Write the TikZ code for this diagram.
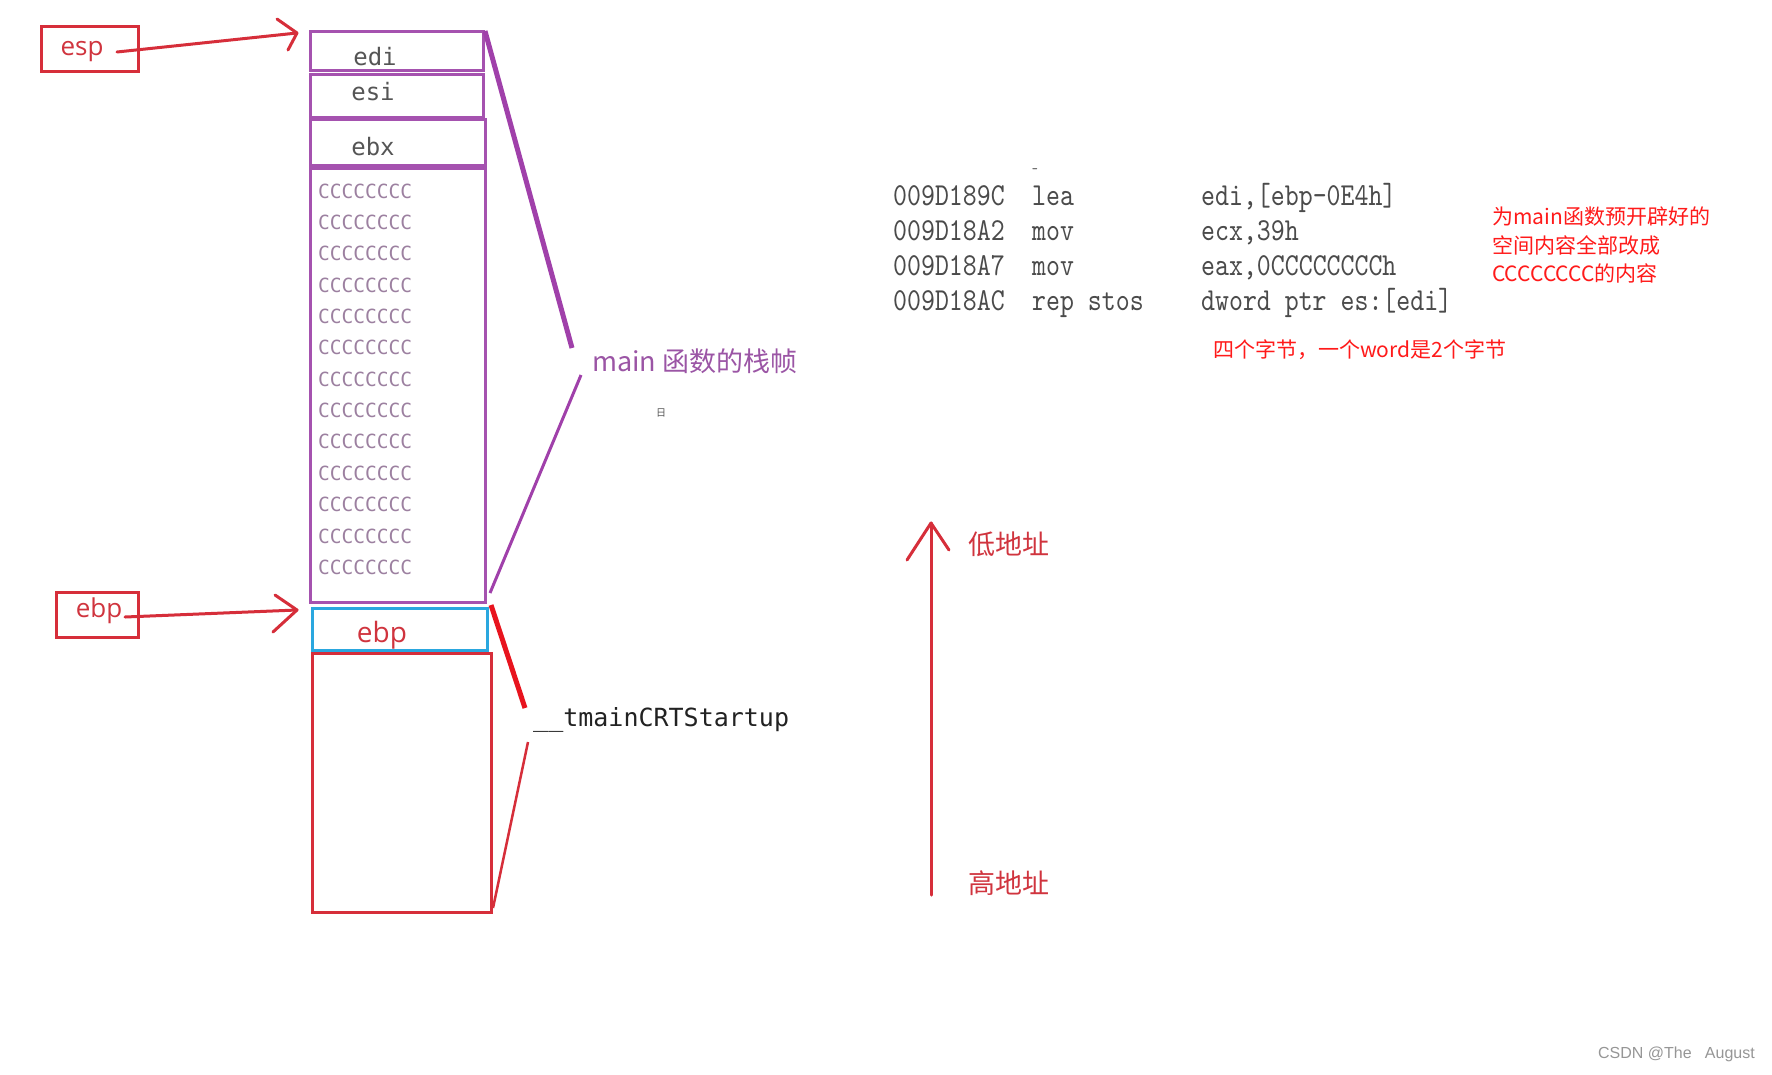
\documentclass[tikz,border=0pt]{standalone}
\usepackage{fontspec}
\setmainfont{Liberation Sans}
\newfontfamily\cjk{Noto Sans CJK SC}
\newfontfamily\uifont{Open Sans}
\newfontfamily\mono{DejaVu Sans Mono}
\newfontfamily\codefont[FakeStretch=0.83]{lmmono10-regular.otf}
\definecolor{pboxc}{RGB}{165,82,175}
\definecolor{plinec}{RGB}{160,64,170}
\definecolor{ccc}{RGB}{156,128,160}
\definecolor{regc}{RGB}{85,85,85}
\definecolor{redbox}{RGB}{214,46,58}
\definecolor{redtxt}{RGB}{208,52,62}
\definecolor{bluebox}{RGB}{42,167,223}
\definecolor{codec}{RGB}{75,75,75}
\definecolor{annred}{RGB}{255,26,26}
\definecolor{mainc}{RGB}{155,85,165}
\tikzset{
  pbox/.style={draw=pboxc, line width=3pt, inner sep=0pt},
  rbox/.style={draw=redbox, line width=3pt, inner sep=0pt},
  regtxt/.style={font=\mono\fontsize{24}{28}\selectfont, text=regc, inner sep=0pt},
  cctxt/.style={font=\mono\fontsize{19.5}{22}\selectfont, text=ccc, inner sep=0pt, anchor=west},
  ptrtxt/.style={font=\uifont\fontsize{26}{30}\selectfont, text=redtxt, inner sep=0pt},
  codetxt/.style={font=\codefont\fontsize{32}{36}\selectfont, text=codec, inner sep=0pt, anchor=base west},
  anntxt/.style={font=\cjk\fontsize{21}{24}\selectfont, text=annred, inner sep=0pt, anchor=west},
  addrtxt/.style={font=\cjk\fontsize{27}{30}\selectfont, text=redtxt, inner sep=0pt, anchor=west},
  redarrow/.style={draw=redbox, line width=3pt, line cap=round, line join=round},
}
\begin{document}
\begin{tikzpicture}[x=1pt,y=-1pt]
\useasboundingbox[fill=white] (0,0) rectangle (1772,1074);

% stack boxes
\draw[pbox] (310,31) rectangle (483,70);
\draw[pbox] (310,74) rectangle (483,117);
\draw[pbox] (310,119) rectangle (485,165);
\draw[pbox] (310,168) rectangle (485,602);
\node[regtxt] (edi) at (375,57) {edi};
\node[regtxt] (esi) at (373,92) {esi};
\node[regtxt] (ebx) at (373,147) {ebx};
\foreach \i in {0,...,12}{
  \node[cctxt] (cc\i) at (318,{191+31.36*\i}) {CCCCCCCC};
}

\draw[draw=bluebox, line width=3pt] (312,608) rectangle (487,650);
\node[ptrtxt, font=\uifont\fontsize{28}{32}\selectfont] (ebpslot) at (382,635.5) {ebp};
\draw[rbox] (312,653) rectangle (491,912);

% esp pointer
\draw[rbox] (41,26) rectangle (138,71);
\node[ptrtxt] (esp) at (82,52) {esp};
\coordinate (espstart) at (117,52);
\coordinate (esptip) at (297,33);
\draw[redarrow] (espstart) -- (esptip);
\draw[redarrow] (277,19) -- (esptip) -- (288,50);

% ebp pointer
\draw[rbox] (56,592) rectangle (138,637);
\node[ptrtxt] (ebp) at (99,611) {ebp};
\coordinate (ebpstart) at (125,617);
\coordinate (ebptip) at (297,610);
\draw[redarrow] (ebpstart) -- (ebptip);
\draw[redarrow] (275,595) -- (ebptip) -- (273,632);

% main frame brace lines
\draw[plinec, line width=5pt] (485,31) -- (572,348);
\draw[plinec, line width=3pt] (581,375) -- (490,593);
\node[font=\cjk\fontsize{27}{30}\selectfont, text=mainc, inner sep=0pt, anchor=west] (mainlbl) at (592,361) {main 函数的栈帧};
\node[font=\cjk\fontsize{10}{11}\selectfont, text=regc, inner sep=0pt] (tiny) at (661,413) {日};

% tmainCRTStartup lines
\draw[draw={rgb,255:red,232;green,20;blue,30}, line width=5pt] (491,605) -- (525,708);
\draw[draw=redbox, line width=2.5pt] (528,742) -- (493,908);
\node[font=\mono\fontsize{25}{28}\selectfont, text={rgb,255:red,34;green,34;blue,34}, inner sep=0pt, anchor=west] (crt) at (533,720) {\_\_tmainCRTStartup};

% code
\node[font=\codefont\fontsize{14}{14}\selectfont, text=codec, inner sep=0pt] (dash) at (1035,171) {-};
\node[codetxt] (a1) at (893,205) {009D189C};
\node[codetxt] (m1) at (1032,205) {lea};
\node[codetxt] (o1) at (1201,205) {edi,[ebp-0E4h]};
\node[codetxt] (a2) at (893,240) {009D18A2};
\node[codetxt] (m2) at (1032,240) {mov};
\node[codetxt] (o2) at (1201,240) {ecx,39h};
\node[codetxt] (a3) at (893,275) {009D18A7};
\node[codetxt] (m3) at (1032,275) {mov};
\node[codetxt] (o3) at (1201,275) {eax,0CCCCCCCCh};
\node[codetxt] (a4) at (893,310) {009D18AC};
\node[codetxt] (m4) at (1032,310) {rep stos};
\node[codetxt] (o4) at (1201,310) {dword ptr es:[edi]};

% annotations
\node[anntxt] (ann1) at (1492,217) {为main函数预开辟好的};
\node[anntxt] (ann2) at (1492,245) {空间内容全部改成};
\node[anntxt] (ann3) at (1492,273) {CCCCCCCC的内容};
\node[anntxt] (ann4) at (1213,350) {四个字节，一个word是2个字节};

% address direction
\coordinate (addrlow) at (931,523);
\coordinate (addrhigh) at (931,895);
\draw[redarrow, line width=3pt] (addrhigh) -- (addrlow);
\draw[redarrow, line width=3pt] (907,560) -- (addrlow) -- (949,550);
\node[addrtxt] (low) at (968,544) {低地址};
\node[addrtxt] (high) at (968,883) {高地址};

% watermark
\node[font=\fontsize{16}{18}\selectfont, text={rgb,255:red,150;green,150;blue,150}, inner sep=0pt, anchor=east] (wm) at (1755,1054) {CSDN @The\ \ \ August};
\end{tikzpicture}
\end{document}
